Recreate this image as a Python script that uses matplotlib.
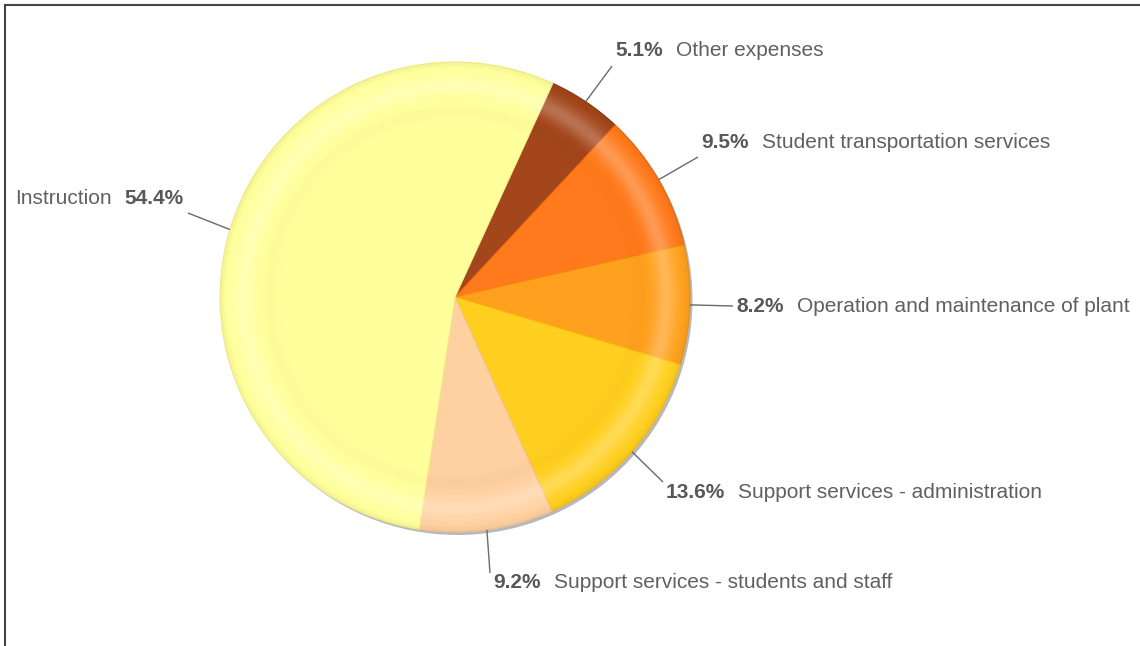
import numpy as np
import matplotlib
matplotlib.use("Agg")
import matplotlib.pyplot as plt
from matplotlib.patches import Circle

plt.rcParams['font.family'] = ['Liberation Sans', 'DejaVu Sans']

# data (clockwise from the top right)
categories = ["Other expenses", "Student transportation services",
              "Operation and maintenance of plant", "Support services - administration",
              "Support services - students and staff", "Instruction"]
shares = [5.1, 9.5, 8.2, 13.6, 9.2, 54.4]
colors = ["#A3461B", "#FF7A1C", "#FFA11F", "#FFCF1F", "#FFD1A1", "#FFFF9C"]
edges = ["#8A3A14", "#F06A10", "#F59010", "#F5BF10", "#F5C390", "#F5F08C"]

W, H = 1140, 646
cx, cy, R = 455, 297, 235

# leader line ends (pixel coords, y down) and text side
label_pos = [(612, 66, 'r'), (698, 157, 'r'), (733, 306, 'r'),
             (663, 482, 'r'), (490, 573, 'r'), (188, 213, 'l')]
text_dy = [-15, -14, 0, 11, 10, -14]

fig = plt.figure(figsize=(W / 100, H / 100), dpi=100)
ax = fig.add_axes([0, 0, 1, 1])

def Y(y):
    return H - y

# shadow
ax.add_patch(Circle((cx + 2.5, Y(cy) - 3), R, facecolor="#b8b8b8", edgecolor="none", zorder=1))

wedges, _ = ax.pie(shares, colors=colors, startangle=65.4, counterclock=False,
                   center=(cx, Y(cy)), radius=R,
                   wedgeprops=dict(linewidth=0.8, zorder=2))
for w, ec in zip(wedges, edges):
    w.set_edgecolor(ec)
    w.set_zorder(2)

# glossy rim
n = 500
xs = np.linspace(-1, 1, n)
xx, yy = np.meshgrid(xs, xs)
rr = np.sqrt(xx ** 2 + yy ** 2)
a = 0.24 * np.exp(-((rr - 0.9) / 0.045) ** 2) \
    - 0.02 * np.exp(-((rr - 0.8) / 0.04) ** 2) \
    - 0.05 * np.clip((rr - 0.96) / 0.04, 0, 1)
img = np.zeros((n, n, 4))
img[..., :3] = np.where(a[..., None] > 0, 1.0, 0.0)
img[..., 3] = np.clip(np.abs(a), 0, 1)
im = ax.imshow(img, extent=[cx - R, cx + R, Y(cy) - R, Y(cy) + R], origin="lower",
               interpolation="bilinear", zorder=3)
clip = Circle((cx, Y(cy)), R, transform=ax.transData)
im.set_clip_path(clip)

# labels
fs = 15
for w, cat, pct, (lx, ly, side), dy in zip(wedges, categories, shares, label_pos, text_dy):
    mid = np.deg2rad((w.theta1 + w.theta2) / 2)
    ex = cx + R * np.cos(mid)
    ey = Y(cy) + R * np.sin(mid)
    ax.plot([ex, lx], [ey, Y(ly)], color="#6a6a6a", lw=1.0, zorder=4,
            solid_capstyle="butt")
    if side == 'r':
        t = ax.text(lx + 3, Y(ly + dy), "%.1f%%" % pct, fontsize=fs, fontweight="bold",
                    color="#585858", ha="left", va="center", zorder=5)
        ax.annotate(cat, xy=(1, 0.5), xycoords=t, xytext=(9.5, 0), textcoords="offset points",
                    fontsize=fs, color="#606060", ha="left", va="center", zorder=5)
    else:
        t = ax.text(lx - 4.5, Y(ly + dy), "%.1f%%" % pct, fontsize=fs, fontweight="bold",
                    color="#585858", ha="right", va="center", zorder=5)
        ax.annotate(cat, xy=(0, 0.5), xycoords=t, xytext=(-9, 0), textcoords="offset points",
                    fontsize=fs, color="#606060", ha="right", va="center", zorder=5)

# frame on top and left
ax.plot([4.5, 4.5], [0, Y(4.5)], color="#444444", lw=1.5, clip_on=False, zorder=6)
ax.plot([4.5, W], [Y(4.5), Y(4.5)], color="#444444", lw=1.5, clip_on=False, zorder=6)

ax.set_xlim(0, W)
ax.set_ylim(0, H)
ax.set_aspect("equal")
ax.axis("off")

fig.savefig("out.png", dpi=100)
